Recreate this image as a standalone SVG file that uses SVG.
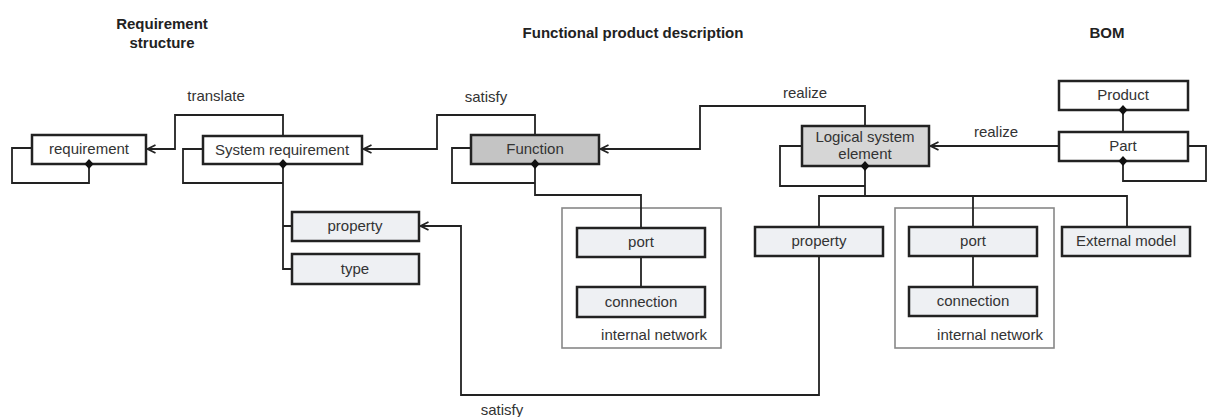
<svg xmlns="http://www.w3.org/2000/svg" width="1208" height="417" viewBox="0 0 1208 417">
<defs>
<marker id="arr" viewBox="0 0 10 10" refX="9" refY="5" markerWidth="10" markerHeight="10" markerUnits="userSpaceOnUse" orient="auto">
<path d="M1,1 L9,5 L1,9" fill="none" stroke="#222" stroke-width="1.8"/>
</marker>
<path id="dia" d="M0,-5 L4.5,0 L0,5 L-4.5,0 Z" fill="#111"/>
</defs>
<style>
text{font-family:"Liberation Sans",Arial,sans-serif;font-size:15px;fill:#333;text-anchor:middle}
.title{font-weight:bold;fill:#222}
.box{stroke:#222;stroke-width:2.5}
.w{fill:#fff}
.g1{fill:#c4c4c4}
.g2{fill:#d6d6d6}
.lt{fill:#eef0f3}
.net{fill:none;stroke:#888;stroke-width:1.6}
.ln{fill:none;stroke:#222;stroke-width:1.8}
</style>
<rect width="1208" height="417" fill="#fff"/>
<g id="titles">
<text class="title" x="162" y="29">Requirement</text>
<text class="title" x="162" y="48">structure</text>
<text class="title" x="633" y="38">Functional product description</text>
<text class="title" x="1107" y="38">BOM</text>
</g>
<g id="networks">
<rect class="net" x="562" y="208" width="159" height="140"/>
<text x="654" y="340">internal network</text>
<rect class="net" x="895" y="208" width="159" height="140"/>
<text x="990" y="340">internal network</text>
</g>
<g id="connectors">
<path class="ln" d="M32,148 H12 V183 H89 V164"/>
<path class="ln" d="M203,149 H183 V183 H283"/>
<path class="ln" d="M283,164 V269 H292 M283,226 H292"/>
<path class="ln" d="M471,148 H452 V183 H535"/>
<path class="ln" d="M535,164 V195 H641 V228"/>
<path class="ln" d="M641,257 V287"/>
<path class="ln" d="M802,146 H780 V186 H865"/>
<path class="ln" d="M865,166 V196 M819,227 V196 H1127 V227 M973,196 V227"/>
<path class="ln" d="M973,256 V287"/>
<path class="ln" d="M1123,110 V132"/>
<path class="ln" d="M1188,146 H1206 V181 H1123 V161"/>
<path class="ln" d="M283,136 V115 H175 V149 H147.5" marker-end="url(#arr)"/>
<path class="ln" d="M535,135 V115 H437 V149 H363.5" marker-end="url(#arr)"/>
<path class="ln" d="M865,126 V106 H700 V149 H600.5" marker-end="url(#arr)"/>
<path class="ln" d="M1059,146 H930.5" marker-end="url(#arr)"/>
<path class="ln" d="M819,256 V395 H461 V226 H420.5" marker-end="url(#arr)"/>
<text x="216" y="101">translate</text>
<text x="486" y="102">satisfy</text>
<text x="805" y="98">realize</text>
<text x="996" y="137">realize</text>
<text x="502" y="415">satisfy</text>
</g>
<g id="requirement">
<rect class="box w" x="32" y="135" width="114" height="29"/>
<text x="89" y="154">requirement</text>
<use href="#dia" x="89" y="164"/>
</g>
<g id="system-requirement">
<rect class="box w" x="203" y="136" width="159" height="28"/>
<text x="282" y="155">System requirement</text>
<use href="#dia" x="283" y="164"/>
</g>
<g id="req-property">
<rect class="box lt" x="292" y="212" width="127" height="29"/>
<text x="355" y="231">property</text>
</g>
<g id="req-type">
<rect class="box lt" x="292" y="254" width="127" height="30"/>
<text x="355" y="274">type</text>
</g>
<g id="function">
<rect class="box g1" x="471" y="135" width="128" height="29"/>
<text x="535" y="154">Function</text>
<use href="#dia" x="535" y="164"/>
</g>
<g id="f-port">
<rect class="box lt" x="577" y="228" width="128" height="29"/>
<text x="641" y="247">port</text>
</g>
<g id="f-connection">
<rect class="box lt" x="577" y="287" width="128" height="30"/>
<text x="641" y="307">connection</text>
</g>
<g id="logical-system-element">
<rect class="box g2" x="802" y="126" width="127" height="40"/>
<text x="865" y="142">Logical system</text>
<text x="865" y="159">element</text>
<use href="#dia" x="865" y="166"/>
</g>
<g id="lse-property">
<rect class="box lt" x="755" y="227" width="128" height="29"/>
<text x="819" y="246">property</text>
</g>
<g id="lse-port">
<rect class="box lt" x="909" y="227" width="128" height="29"/>
<text x="973" y="246">port</text>
</g>
<g id="lse-connection">
<rect class="box lt" x="909" y="287" width="128" height="29"/>
<text x="973" y="306">connection</text>
</g>
<g id="external-model">
<rect class="box lt" x="1062" y="227" width="128" height="29"/>
<text x="1126" y="246">External model</text>
</g>
<g id="product">
<rect class="box w" x="1059" y="81" width="129" height="29"/>
<text x="1123" y="100">Product</text>
<use href="#dia" x="1123" y="110"/>
</g>
<g id="part">
<rect class="box w" x="1059" y="132" width="129" height="29"/>
<text x="1123" y="151">Part</text>
<use href="#dia" x="1123" y="161"/>
</g>
</svg>
